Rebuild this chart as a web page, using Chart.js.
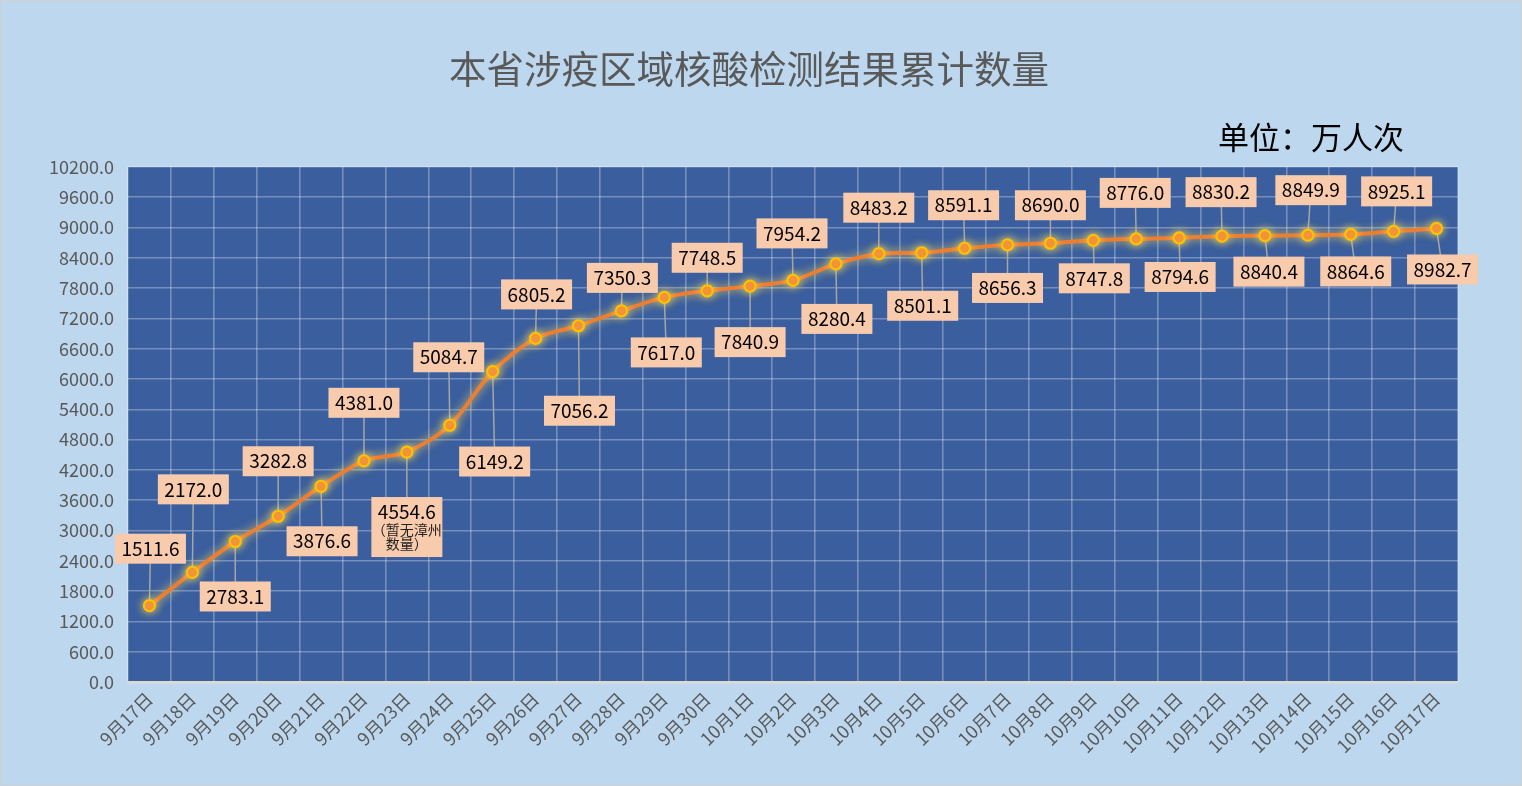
<!DOCTYPE html>
<html>
<head>
<meta charset="utf-8">
<script src="https://cdn.jsdelivr.net/npm/chart.js@4/dist/chart.umd.min.js"></script>
<style>
    html, body { margin: 0; padding: 0; background: #BDD7EE; }
    #wrap { width: 1520px; height: 784px; border: 1px solid #D0D0D0; position: relative; }
    canvas { display: block; }
</style>
</head>
<body>
<div id="wrap"><canvas id="c" width="1520" height="784"></canvas></div>
<script>
const categories = ['9月17日','9月18日','9月19日','9月20日','9月21日','9月22日','9月23日','9月24日','9月25日','9月26日',
    '9月27日','9月28日','9月29日','9月30日','10月1日','10月2日','10月3日','10月4日','10月5日','10月6日','10月7日',
    '10月8日','10月9日','10月10日','10月11日','10月12日','10月13日','10月14日','10月15日','10月16日','10月17日'];
const totals = [1511.6, 2172.0, 2783.1, 3282.8, 3876.6, 4381.0, 4554.6, 5084.7, 6149.2, 6805.2,
    7056.2, 7350.3, 7617.0, 7748.5, 7840.9, 7954.2, 8280.4, 8483.2, 8501.1, 8591.1, 8656.3,
    8690.0, 8747.8, 8776.0, 8794.6, 8830.2, 8840.4, 8849.9, 8864.6, 8925.1, 8982.7];
const notes = { 6: ['（暂无漳州', '数量）'] };
const yMin = 0, yMax = 10200, yStep = 600;
const titleText = '本省涉疫区域核酸检测结果累计数量';
const unitText = '单位：万人次';

// label box placement relative to its point (px)
const labelOffsets = [[1,-57],[1,-83],[0,55],[0,-55],[1,55],[0,-58],[0,75],[-1,-68],[2,90],[1,-44],
    [1,85],[1,-33],[2,55],[0,-33],[0,56],[-1,-47],[1,55],[0,-46],[1,53],[-1,-43],[0,43],
    [0,-38],[1,38],[-1,-46],[1,39],[-1,-44],[4,36],[3,-45],[5,37],[3,-40],[6,41]];

const FONT = '"Noto Sans CJK SC", "Noto Sans", sans-serif';

const backdrop = {
    id: 'backdrop',
    beforeDraw(chart) {
        const { ctx, chartArea: a } = chart;
        ctx.save();
        ctx.fillStyle = '#BDD7EE';
        ctx.fillRect(0, 0, chart.width, chart.height);
        ctx.fillStyle = '#3A5E9E';
        ctx.fillRect(a.left, a.top, a.right - a.left, a.bottom - a.top);
        ctx.fillStyle = '#595959';
        ctx.font = '37.5px ' + FONT;
        ctx.textAlign = 'center';
        ctx.textBaseline = 'middle';
        ctx.fillText(titleText, 748, 68);
        ctx.fillStyle = '#000';
        ctx.font = '31px ' + FONT;
        ctx.fillText(unitText, 1310, 136);
        ctx.restore();
    }
};

const glow = {
    id: 'glow',
    beforeDatasetDraw(chart) {
        const ctx = chart.ctx;
        ctx.save();
        ctx.shadowColor = 'rgba(255, 225, 90, 0.85)';
        ctx.shadowBlur = 10;
    },
    afterDatasetDraw(chart) { chart.ctx.restore(); }
};

const callouts = {
    id: 'callouts',
    beforeDatasetsDraw(chart) {
        const { ctx } = chart;
        const pts = chart.getDatasetMeta(0).data;
        ctx.save();
        ctx.strokeStyle = '#A6A6A6';
        ctx.lineWidth = 1.5;
        pts.forEach((p, i) => {
            const [dx, dy] = labelOffsets[i];
            ctx.beginPath();
            ctx.moveTo(p.x, p.y);
            ctx.lineTo(p.x + dx, p.y + dy);
            ctx.stroke();
        });
        ctx.restore();
    },
    afterDatasetsDraw(chart) {
        const { ctx } = chart;
        const pts = chart.getDatasetMeta(0).data;
        ctx.save();
        ctx.textAlign = 'center';
        ctx.textBaseline = 'middle';
        pts.forEach((p, i) => {
            const [dx, dy] = labelOffsets[i];
            const cx = p.x + dx, cy = p.y + dy;
            const txt = totals[i].toFixed(1);
            const extra = notes[i] || [];
            const w = 71;
            const h = 30 + extra.length * 15;
            ctx.fillStyle = '#F8CBAD';
            ctx.fillRect(cx - w / 2, cy - h / 2, w, h);
            ctx.fillStyle = '#000';
            ctx.font = '19px ' + FONT;
            ctx.fillText(txt, cx, cy - h / 2 + 15);
            ctx.font = '14px ' + FONT;
            ctx.fillStyle = '#222';
            extra.forEach((t, k) => ctx.fillText(t, cx, cy - h / 2 + 33 + k * 14));
        });
        ctx.restore();
    }
};

new Chart(document.getElementById('c'), {
    type: 'line',
    data: {
        labels: categories,
        datasets: [{
            data: totals,
            borderColor: '#ED7D31',
            borderWidth: 4,
            tension: 0.3,
            pointRadius: 5.5,
            pointBackgroundColor: '#ED7D31',
            pointBorderColor: '#FFC000',
            pointBorderWidth: 2.2,
            pointHoverRadius: 5.5
        }]
    },
    options: {
        responsive: false,
        animation: false,
        events: [],
        layout: { padding: { top: 166, right: 63, left: 0, bottom: 0 } },
        plugins: { legend: { display: false }, tooltip: { enabled: false }, title: { display: false } },
        scales: {
            x: {
                offset: true,
                grid: { offset: true, color: 'rgba(255,255,255,0.3)', lineWidth: 1.6, drawTicks: false },
                border: { color: '#D9D9D9', width: 3 },
                ticks: { color: '#595959', font: { family: FONT, size: 18 }, maxRotation: 45, minRotation: 45, autoSkip: false, padding: 6 },
                afterFit: s => { s.height = 103; }
            },
            y: {
                min: yMin, max: yMax,
                grid: { color: 'rgba(255,255,255,0.3)', lineWidth: 1.6, drawTicks: false },
                border: { display: false },
                ticks: { stepSize: yStep, color: '#595959', font: { family: FONT, size: 18 }, padding: 14, callback: v => v.toFixed(1) },
                afterFit: s => { s.width = 127; }
            }
        }
    },
    plugins: [backdrop, glow, callouts]
});
</script>
</body>
</html>
